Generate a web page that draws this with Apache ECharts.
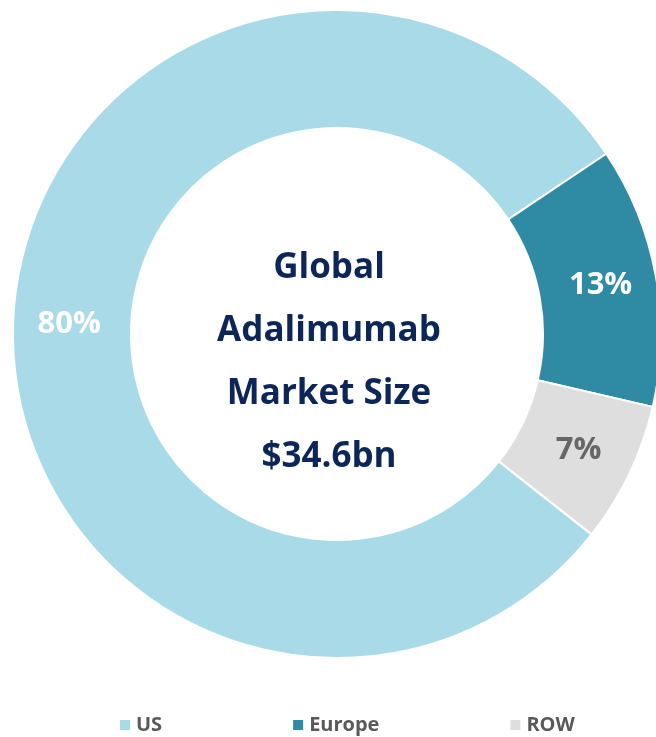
<!DOCTYPE html>
<html>
<head>
<meta charset="utf-8">
<script src="https://cdn.jsdelivr.net/npm/echarts@6/dist/echarts.min.js"></script>
<style>html,body{margin:0;padding:0;background:#fff}#c{width:656px;height:737px}</style>
</head>
<body>
<div id="c"></div>
<script>
const categories = ['US', 'Europe', 'ROW'];
const shares = [80, 13, 7];
const colors = ['#A8DBE7', '#2E8BA3', '#DEDEDE'];
const labelColors = ['#FFFFFF', '#FFFFFF', '#666666'];
const centerLines = ['Global', 'Adalimumab', 'Market Size', '$34.6bn'];

const chart = echarts.init(document.getElementById('c'), null, {renderer: 'canvas'});
const font = '"Open Sans", "Liberation Sans", sans-serif';
chart.setOption({
  animation: false,
  legend: {
    data: categories,
    left: 118,
    top: 715,
    padding: 0,
    itemWidth: 12,
    itemHeight: 12,
    itemGap: 129,
    icon: 'rect',
    textStyle: {color: '#595959', fontSize: 20, fontWeight: 'bold', fontFamily: font}
  },
  graphic: [{
    type: 'text',
    style: {
      text: centerLines.join('\n'),
      x: 329, y: 363,
      align: 'center', verticalAlign: 'middle',
      fill: '#0C2658',
      font: 'bold 35px ' + font,
      lineHeight: 63
    }
  }],
  series: [{
    type: 'pie',
    center: [337, 334],
    radius: [206, 324],
    startAngle: -38.2,
    clockwise: true,
    avoidLabelOverlap: false,
    label: {
      show: true,
      position: 'inside',
      formatter: '{c}%',
      fontSize: 31,
      fontWeight: 'bold',
      fontFamily: font
    },
    labelLine: {show: false},
    itemStyle: {borderColor: '#FFFFFF', borderWidth: 2},
    emphasis: {disabled: true},
    data: categories.map((n, i) => ({
      name: n, value: shares[i],
      itemStyle: {color: colors[i]},
      label: {color: labelColors[i]}
    }))
  }]
});
</script>
</body>
</html>
